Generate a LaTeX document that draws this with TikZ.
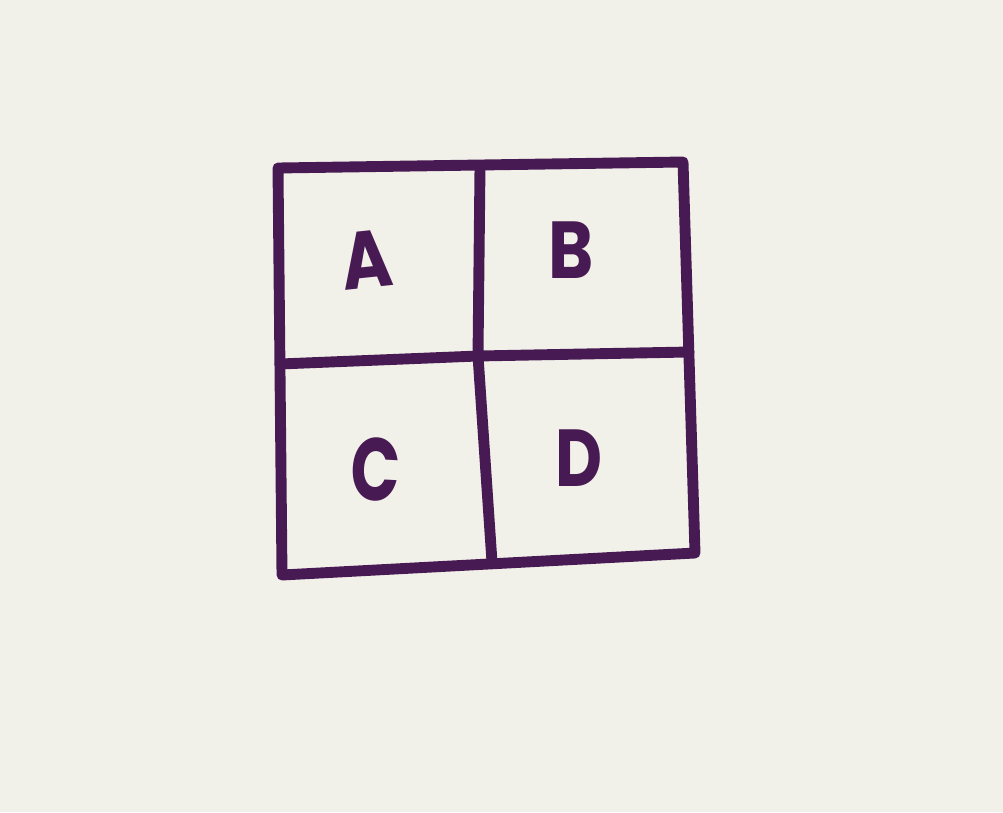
\documentclass[tikz,border=0pt]{standalone}
\usepackage{fontspec}
\setmainfont{Poppins}
\definecolor{paper}{RGB}{242,241,233}
\definecolor{ink}{RGB}{72,26,84}
\begin{document}
\begin{tikzpicture}[x=0.02cm,y=-0.02cm,
  pen/.style={draw=ink,line width=6.2pt,line cap=round,line join=round},
  letter/.style={text=ink,font=\fontsize{46}{46}\selectfont\bfseries,inner sep=0pt}]
\fill[paper] (0,0) rectangle (1003,812);
\useasboundingbox (0,0) rectangle (1003,812);
% corners
\coordinate (tl) at (278,168);
\coordinate (tr) at (683,162);
\coordinate (br) at (695,553);
\coordinate (bl) at (282,575);
\coordinate (vt) at (480,167);
\coordinate (vm) at (478,356);
\coordinate (vb) at (492,562);
\coordinate (hl) at (280,364);
\coordinate (hr) at (689,352);
% frame
\draw[pen] (tl) -- (tr) -- (br) -- (bl) -- cycle;
\draw[pen] (vt) -- (vm) -- (vb);
\draw[pen] (hl) -- (vm) -- (hr);
% letters
\node[letter,rotate=6,xscale=0.85] (A) at (367,260) {A};
\node[letter,xscale=0.85] (B) at (571,250) {B};
\node[letter,rotate=-3,xscale=0.8,yscale=1.1] (C) at (376,469) {C};
\node[letter,xscale=0.8] (D) at (579,458) {D};
\end{tikzpicture}
\end{document}
